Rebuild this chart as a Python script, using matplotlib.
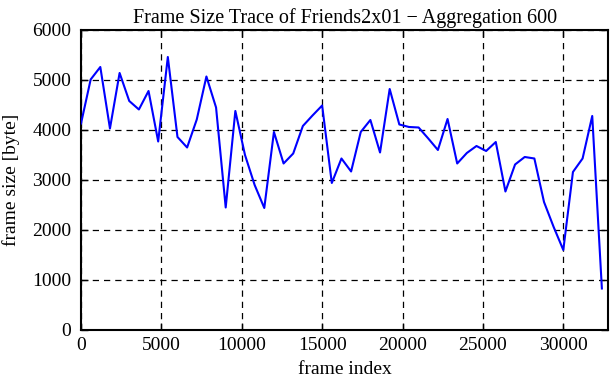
import numpy as np
import matplotlib
matplotlib.use("Agg")
import matplotlib.pyplot as plt

# aggregation of 600 frames per point
frame_index = np.arange(0, 55) * 600
frame_size = [4130, 5010, 5260, 4030, 5140, 4580, 4410, 4780, 3770, 5460,
              3860, 3650, 4210, 5070, 4450, 2450, 4380, 3500, 2900, 2440,
              3960, 3330, 3530, 4080, 4290, 4490, 2940, 3430, 3170, 3960,
              4200, 3550, 4820, 4110, 4060, 4050, 3830, 3600, 4220, 3330,
              3540, 3680, 3580, 3760, 2770, 3310, 3460, 3430, 2560, 2060,
              1600, 3160, 3430, 4280, 830]

plt.rcParams['font.family'] = ['Liberation Serif', 'DejaVu Serif']

fig = plt.figure(figsize=(6.11, 3.8), dpi=100)
ax = fig.add_axes([0.1326, 0.1316, 0.8630, 0.7895])

ax.plot(frame_index, frame_size, color="#0000ff", linewidth=1.5, zorder=3)

ax.set_xlim(0, 32800)
ax.set_ylim(0, 6000)
ax.set_xticks(np.arange(0, 30001, 5000))
ax.set_yticks(np.arange(0, 6001, 1000))
ax.grid(True, color="black", linestyle=(0, (5, 4)), linewidth=0.9)

ax.set_title("Frame Size Trace of Friends2x01 \u2212 Aggregation 600", fontsize=14.5, pad=5)
ax.set_xlabel("frame index", fontsize=14, labelpad=5)
ax.set_ylabel("frame size [byte]", fontsize=14, labelpad=9)

ax.tick_params(axis="both", direction="in", length=5, width=1, labelsize=14,
               top=True, right=True)
ax.tick_params(axis="y", pad=7)
ax.tick_params(axis="x", pad=5)
for s in ax.spines.values():
    s.set_linewidth(1.5)

fig.savefig("out.png", dpi=100)
